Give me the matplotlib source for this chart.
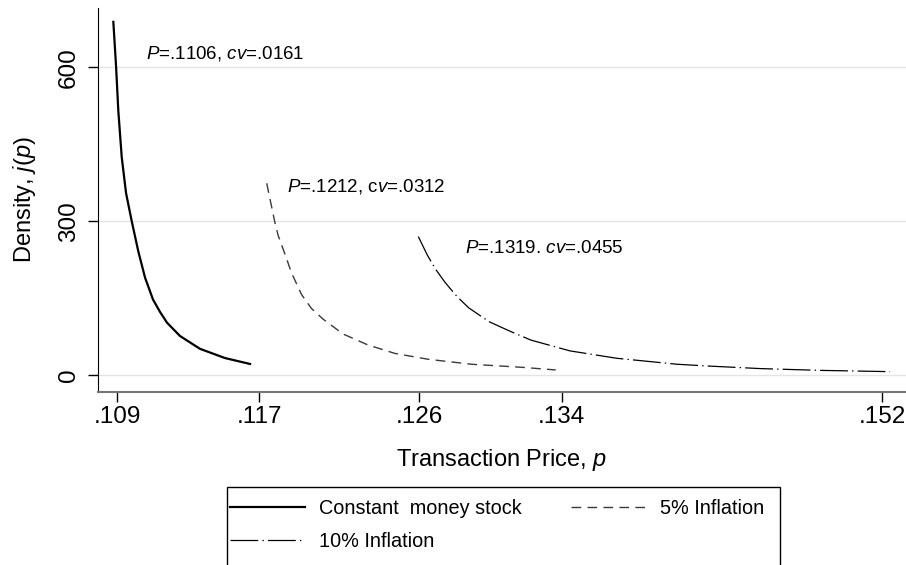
import matplotlib
matplotlib.use("Agg")
import matplotlib.pyplot as plt
from matplotlib.lines import Line2D
from matplotlib.patches import Rectangle

plt.rcParams['font.family'] = ['Liberation Sans', 'DejaVu Sans']
plt.rcParams['mathtext.fontset'] = 'custom'
plt.rcParams['mathtext.rm'] = 'Liberation Sans'
plt.rcParams['mathtext.it'] = 'Liberation Sans:italic'
plt.rcParams['lines.scale_dashes'] = False

# Data
p_const = [.108792, .108944, .109073, .109264, .109506, .109826, .110197, .110574,
           .111024, .111417, .111811, .112541, .113666, .115071, .116476]
j_const = [689, 603, 515, 425, 355, 300, 241, 190, 147, 123, 102, 76, 51, 33, 21.5]

p_5 = [.117415, .117865, .118050, .118500, .118798, .119371, .119922, .120580,
       .121704, .123109, .124627, .126499, .128938, .131749, .133660]
j_5 = [374, 299, 273, 230, 200, 157, 130, 109, 80, 58.5, 42, 30.6, 20.9, 15, 9.8]

p_10 = [.125937, .126426, .126892, .127454, .128112, .128769, .129911, .131147,
        .132272, .134464, .137089, .140461, .142148, .145144, .148517, .152452]
j_10 = [270, 235, 207, 180, 153, 131, 104, 84.5, 68, 47, 32.6, 21, 17.6, 12.5, 9, 6.5]

series_labels = ["Constant  money stock", "5% Inflation", "10% Inflation"]
xticks = [.109, .117, .126, .134, .152]
xtick_labels = [".109", ".117", ".126", ".134", ".152"]
yticks = [0, 300, 600]
annotations = [
    (.11061, 628, r"$P$=.1106, $cv$=.0161"),
    (.11857, 367, r"$P$=.1212, c$v$=.0312"),
    (.12856, 247, r"$P$=.1319. $cv$=.0455"),
]

fig = plt.figure(figsize=(9.06, 5.65), dpi=100)
ax = fig.add_axes([98/906, 1-392/565, 1-98/906, (392-8)/565])

styles = [
    dict(color='black', lw=1.6, linestyle='-'),
    dict(color='#3a3a3a', lw=1.0, linestyle=(0, (7, 4.5))),
    dict(color='black', lw=0.9, linestyle=(0, (20, 3, 1, 3))),
]
ax.plot(p_const, j_const, **styles[0])
ax.plot(p_5, j_5, **styles[1])
ax.plot(p_10, j_10, **styles[2])

ax.set_xlim(.10793, .15335)
ax.set_ylim(-33.2, 716)
ax.set_xticks(xticks)
ax.set_xticklabels(xtick_labels)
ax.set_yticks(yticks)
ax.set_yticklabels([str(v) for v in yticks], rotation=90, va='center')
ax.grid(axis='y', color='#e4e4e4', lw=1)
ax.set_axisbelow(True)
for s in ['top', 'right']:
    ax.spines[s].set_visible(False)
ax.spines['left'].set_color('black')
ax.spines['bottom'].set_color('#777777')
ax.spines['bottom'].set_linewidth(1.5)
ax.tick_params(axis='both', direction='out', length=7, width=1, labelsize=17.5)
ax.tick_params(axis='x', pad=3)
ax.tick_params(axis='y', pad=6)

ax.set_xlabel(r"Transaction Price, $p$", fontsize=17, labelpad=14)
ax.set_ylabel(r"Density, $j(p)$", fontsize=17, labelpad=14)

for x, y, t in annotations:
    ax.text(x, y, t, fontsize=13.5, ha='left', va='center')

# legend
fig.patches.append(Rectangle((227/906, -0.05), (780-227)/906, (1-487/565)+0.05,
                             transform=fig.transFigure, fill=False, edgecolor='black', lw=1,
                             clip_on=False))
handles = [Line2D([], [], **styles[0]), Line2D([], [], **styles[1]), Line2D([], [], **styles[2])]
order = [0, 2, 1]
leg = fig.legend([handles[i] for i in order], [series_labels[i] for i in order],
                 loc='upper left', ncol=2,
                 bbox_to_anchor=(230/906, 1-499/565), frameon=False, fontsize=14.3,
                 borderpad=0, borderaxespad=0, handlelength=3.8, handletextpad=0.66,
                 columnspacing=2.5, labelspacing=0.72)

fig.savefig("out.png", dpi=100)
